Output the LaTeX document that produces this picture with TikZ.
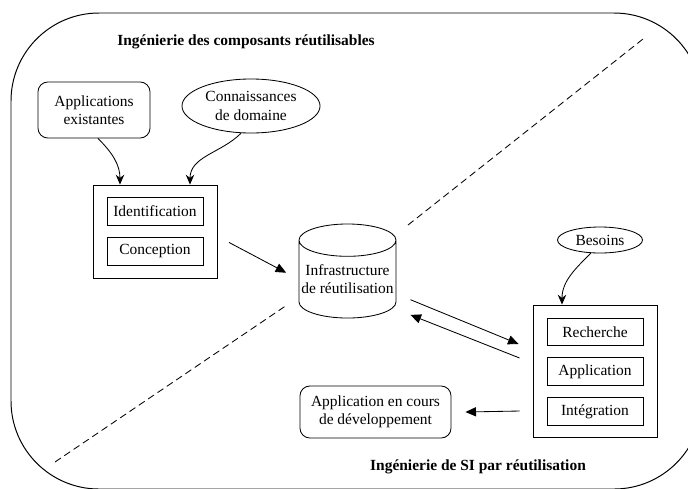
\documentclass[tikz,border=0pt]{standalone}
\usepackage{fontspec}
\setmainfont{Liberation Serif}
\usetikzlibrary{shapes.geometric,arrows.meta}

\begin{document}
\begin{tikzpicture}[x=0.025cm,y=-0.025cm,
    font=\fontsize{11}{13}\selectfont,
    task/.style={draw,line width=0.6pt,minimum width=2.4cm,minimum height=0.68cm,inner sep=0pt},
    stage/.style={draw,line width=0.6pt,minimum width=3.1cm},
    source/.style={draw,line width=0.6pt,rounded corners=7pt,align=center,inner sep=0pt},
    input/.style={draw,line width=0.6pt,ellipse,align=center,inner sep=0pt},
    flow/.style={-{Triangle[length=7.5pt,width=6.5pt]},line width=0.6pt},
    feed/.style={-{Stealth[length=7pt,width=6pt]},line width=0.6pt},
    separ/.style={dash pattern=on 5pt off 3pt,line width=0.6pt}]
    \clip (0,0) rectangle (688,488);
    %
    \draw[line width=0.7pt,rounded corners=2.2cm] (11,13) rectangle (702,489);
    \draw[separ] (55,462) -- (287,305);
    \draw[separ] (408,225) -- (643,39);
    %
    \node[font=\fontsize{11}{13}\selectfont\bfseries] (gcomp) at (246,42) {Ingénierie des composants réutilisables};
    \node[font=\fontsize{11}{13}\selectfont\bfseries] (gsi) at (478,467) {Ingénierie de SI par réutilisation};
    %
    \node[source,minimum width=2.8cm,minimum height=1.4cm] (appex) at (94,110) {Applications\\existantes};
    \node[input,minimum width=3.45cm,minimum height=1.35cm] (conn) at (251,106) {Connaissances\\de domaine};
    \node[stage,minimum height=2.325cm] (devcomp) at (155,231.5) {};
    \node[task] (ident) at (155,211.5) {Identification};
    \node[task] (concep) at (155,251.5) {Conception};
    %
    \node[draw,line width=0.6pt,cylinder,shape border rotate=90,aspect=0.35,align=center,anchor=shape center,
          minimum width=2.425cm,minimum height=2.35cm,inner sep=0pt] (infra) at (347.5,271) {Infrastructure\\de réutilisation};
    %
    \node[input,minimum width=2.125cm,minimum height=0.65cm] (besoins) at (600,240) {Besoins};
    \node[stage,minimum height=3.3cm] (devsi) at (595,371) {};
    \node[task] (rech) at (595,332) {Recherche};
    \node[task] (appl) at (595,371.5) {Application};
    \node[task] (integ) at (595,411.5) {Intégration};
    \node[source,minimum width=3.775cm,minimum height=1.3cm] (appdev) at (375.5,412) {Application en cours\\de développement};
    %
    \draw[feed] ([xshift=0.1cm]appex.south) to[out=-45,in=90] ([xshift=-0.875cm]devcomp.north);
    \draw[feed] (conn.250) to[out=-135,in=90] ([xshift=0.875cm]devcomp.north);
    \draw[feed] (besoins.235) to[out=-135,in=90] ([xshift=-0.825cm]devsi.north);
    \draw[flow, shorten <=0.33cm, shorten >=0.35cm] ([yshift=-0.12cm]devcomp.east) -- (infra.west);
    \draw[flow] ([shift={(0.35cm,-0.51cm)}]infra.east) -- ([shift={(-0.35cm,0.675cm)}]devsi.west);
    \draw[flow] ([shift={(-0.325cm,0.325cm)}]devsi.west) -- ([shift={(0.35cm,-0.89cm)}]infra.east);
    \draw[flow] ([shift={(-0.325cm,-1.0cm)}]devsi.west) -- ([xshift=0.35cm]appdev.east);
\end{tikzpicture}
\end{document}
